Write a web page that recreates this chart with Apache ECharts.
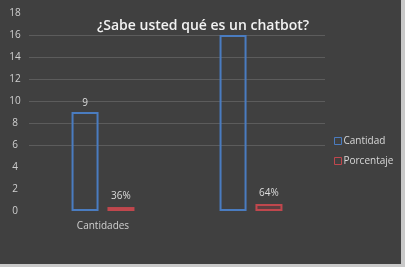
<!DOCTYPE html>
<html>
<head>
<meta charset="utf-8">
<script src="https://cdn.jsdelivr.net/npm/echarts@6/dist/echarts.min.js"></script>
<style>
  html, body { margin: 0; padding: 0; background: #c9c9c9; }
  #chart { width: 401px; height: 264px; background: #404040; }
</style>
</head>
<body>
<div id="chart"></div>
<script>
// datos
const categorias = ['Cantidades', ''];
const cantidad = [9, 16];
const porcentaje = [0.36, 0.64];
const etiquetasPorcentaje = ['36%', '64%'];

const chart = echarts.init(document.getElementById('chart'));

// líneas de la cuadrícula visibles solo desde 8 hacia arriba
const gridColors = ['transparent', 'transparent', 'transparent',
  '#5c5c5c', '#5c5c5c', '#5c5c5c', '#5c5c5c', '#5c5c5c', '#5c5c5c'];

const option = {
  backgroundColor: '#404040',
  animation: false,
  textStyle: { fontFamily: 'Open Sans' },
  title: {
    text: '¿Sabe usted qué es un chatbot?',
    left: 198,
    textAlign: 'center',
    top: 14,
    textStyle: { color: '#f2f2f2', fontSize: 14, fontWeight: 600, fontFamily: 'Open Sans' }
  },
  legend: {
    orient: 'vertical',
    left: 329,
    top: 131,
    itemWidth: 7,
    itemHeight: 7,
    itemGap: 10,
    icon: 'rect',
    textStyle: { color: '#d8d8d8', fontSize: 10, padding: [0, 0, 0, -3] },
    data: [
      { name: 'Cantidad', itemStyle: { color: 'transparent', borderColor: '#4a7cc0', borderWidth: 1 } },
      { name: 'Porcentaje', itemStyle: { color: 'transparent', borderColor: '#c0474d', borderWidth: 1 } }
    ]
  },
  grid: { left: 29, right: 76, top: 13, bottom: 53 },
  xAxis: {
    type: 'category',
    data: categorias,
    axisLine: { show: false },
    axisTick: { show: false },
    axisLabel: { color: '#d0d0d0', fontSize: 10, margin: 10 }
  },
  yAxis: {
    type: 'value',
    min: 0,
    max: 18,
    interval: 2,
    axisLine: { show: false },
    axisTick: { show: false },
    axisLabel: { color: '#cfcfcf', fontSize: 10, align: 'center', margin: 14 },
    splitLine: { lineStyle: { color: gridColors, width: 1 } }
  },
  series: [
    {
      name: 'Cantidad',
      type: 'bar',
      data: cantidad,
      barWidth: 27,
      barGap: '33%',
      itemStyle: { color: 'rgba(64,64,64,0)', borderColor: '#4a7cc0', borderWidth: 2 },
      label: {
        show: true,
        position: 'top',
        distance: 4,
        color: '#dcdcdc',
        fontSize: 10,
        formatter: p => (p.dataIndex === 0 ? String(p.value) : '')
      }
    },
    {
      name: 'Porcentaje',
      type: 'bar',
      data: porcentaje,
      barWidth: 27,
      itemStyle: { color: 'rgba(150,60,65,0.35)', borderColor: '#c0474d', borderWidth: 2 },
      label: {
        show: true,
        position: 'top',
        distance: 6,
        color: '#dcdcdc',
        fontSize: 10,
        formatter: p => etiquetasPorcentaje[p.dataIndex]
      }
    }
  ]
};

chart.setOption(option);
</script>
</body>
</html>
